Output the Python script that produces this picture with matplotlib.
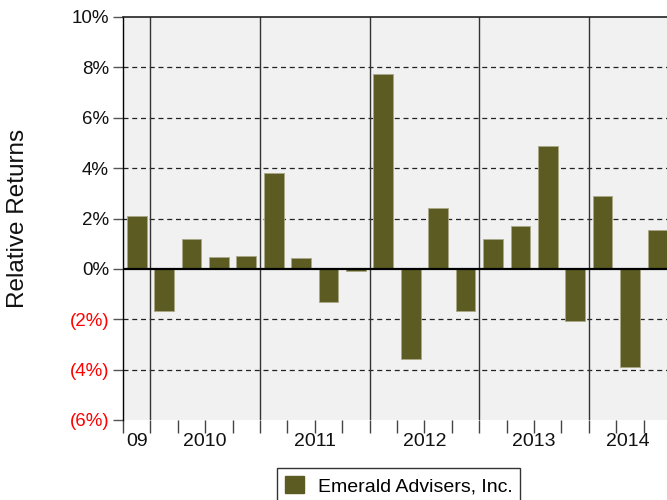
import matplotlib
matplotlib.use("Agg")
import matplotlib.pyplot as plt
from matplotlib.patches import Patch
from matplotlib.transforms import blended_transform_factory

plt.rcParams['font.family'] = ['Liberation Sans', 'DejaVu Sans']

quarters = ["2009Q4",
            "2010Q1", "2010Q2", "2010Q3", "2010Q4",
            "2011Q1", "2011Q2", "2011Q3", "2011Q4",
            "2012Q1", "2012Q2", "2012Q3", "2012Q4",
            "2013Q1", "2013Q2", "2013Q3", "2013Q4",
            "2014Q1", "2014Q2", "2014Q3"]
returns = [2.1,
           -1.67, 1.2, 0.48, 0.52,
           3.82, 0.44, -1.31, -0.1,
           7.75, -3.58, 2.43, -1.67,
           1.19, 1.72, 4.89, -2.07,
           2.9, -3.9, 1.55]
year_labels = ["09", "2010", "2011", "2012", "2013", "2014"]
year_starts = [0, 1, 5, 9, 13, 17]
series_name = "Emerald Advisers, Inc."
yticks = [-6, -4, -2, 0, 2, 4, 6, 8, 10]

bar_color = "#5c5b21"
xmax = 19.85

fig = plt.figure(figsize=(6.67, 5), dpi=100)
ax = fig.add_axes([0.1844, 0.16, 0.8156, 0.806])
ax.set_facecolor("#f1f1f1")

x = [i + 0.5 for i in range(len(returns))]
ax.bar(x, returns, width=0.72, color=bar_color, edgecolor="#a9a888",
       linewidth=0.6, zorder=3)

ax.set_xlim(0, xmax)
ax.set_ylim(-6, 10)

# gridlines
for v in yticks:
    if v in (-6, 10, 0):
        continue
    ax.axhline(v, color="#222222", linestyle=(0, (4, 3)), linewidth=0.9, zorder=1)
ax.axhline(0, color="black", linewidth=1.6, zorder=4)

# year separators
for s in year_starts[1:]:
    ax.axvline(s, color="#333333", linewidth=1.0, zorder=2)

# y ticks
ax.set_yticks(yticks)
labels = []
for v in yticks:
    labels.append(f"({abs(v)}%)" if v < 0 else f"{v}%")
ax.set_yticklabels(labels, fontsize=13.5)
for t, v in zip(ax.get_yticklabels(), yticks):
    t.set_color("red" if v < 0 else "#111111")
ax.tick_params(axis="y", length=7, width=1, color="#555555", pad=3)

# x ticks: quarter boundaries as tick marks
ax.set_xticks(list(range(0, 20)))
ax.set_xticklabels([])
ax.tick_params(axis="x", which="major", length=9, width=1, color="#444444", direction="out")

# year labels centred on the visible part of each year
trans = blended_transform_factory(ax.transData, ax.transAxes)
for i, s in enumerate(year_starts):
    e = year_starts[i + 1] if i + 1 < len(year_starts) else xmax
    pos = (s + min(e, xmax)) / 2
    ax.text(pos, -0.053, year_labels[i], transform=trans, ha="center", va="center",
            fontsize=14, color="#111111")

for side in ("right", "bottom"):
    ax.spines[side].set_visible(False)
ax.spines["left"].set_color("black")
ax.spines["top"].set_color("#222222")
ax.spines["left"].set_linewidth(1.0)
ax.spines["top"].set_linewidth(1.2)

fig.text(18 / 667, 1 - 218 / 500, "Relative Returns", rotation=90, ha="center",
         va="center", fontsize=17.5, color="#111111")

leg = fig.legend(handles=[Patch(facecolor=bar_color, edgecolor=bar_color, label=series_name)],
                 loc="upper left", bbox_to_anchor=(277 / 667, 1 - 468 / 500),
                 prop={"size": 14}, frameon=True, fancybox=False, borderpad=0.4,
                 handlelength=1.0, handleheight=1.0, handletextpad=0.7, borderaxespad=0)
leg.get_frame().set_edgecolor("black")
leg.get_frame().set_linewidth(1.0)

fig.savefig("out.png", dpi=100)
